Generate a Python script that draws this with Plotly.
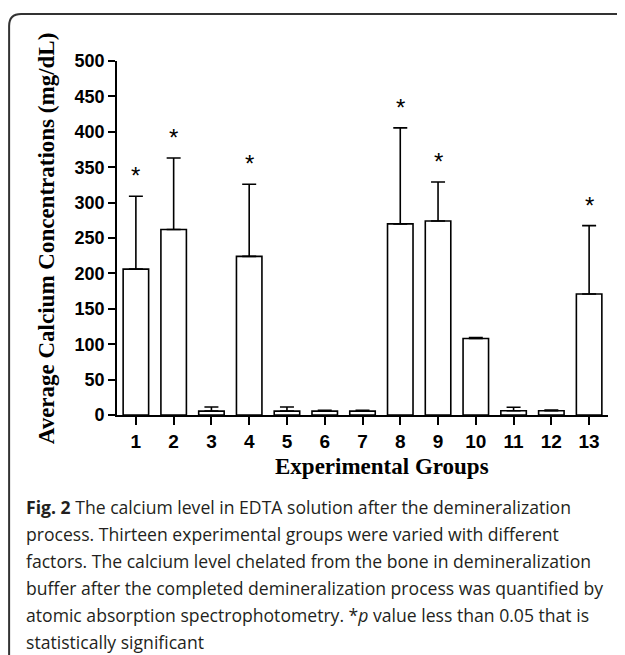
import plotly.graph_objects as go

groups = ["1", "2", "3", "4", "5", "6", "7", "8", "9", "10", "11", "12", "13"]
means = [206, 262, 5.5, 224, 5.5, 5.5, 5.5, 270, 274, 108, 6, 6, 171]
err_upper = [103, 101, 5.7, 102, 5.7, 1, 1, 135.5, 55, 1.5, 5, 1, 96.5]
significant = ["1", "2", "4", "8", "9", "13"]
y_ticks = [0, 50, 100, 150, 200, 250, 300, 350, 400, 450, 500]

caption_lines = [
    "<b>Fig. 2</b> The calcium level in EDTA solution after the demineralization",
    "process. Thirteen experimental groups were varied with different",
    "factors. The calcium level chelated from the bone in demineralization",
    "buffer after the completed demineralization process was quantified by",
    "atomic absorption spectrophotometry. *<i>p</i> value less than 0.05 that is",
    "statistically significant",
]

# page body has an 8px margin: work in screen coords and subtract it
OFF = 8
W, H = 625, 655
ML = 117 - OFF
MT = 61 - OFF
MR = W - (608.5 - OFF)
MB = H - (414.6 - OFF)
PW = W - ML - MR
PH = H - MT - MB


def px(x):
    return (x - OFF - ML) / PW


def py(y):
    return (H - MB - (y - OFF)) / PH


fig = go.Figure()
fig.add_trace(go.Bar(
    x=groups,
    y=means,
    marker=dict(color="white", line=dict(color="black", width=1.6)),
    error_y=dict(type="data", symmetric=False, array=err_upper,
                 arrayminus=[0] * len(means), color="black",
                 thickness=1.6, width=7),
    width=0.675,
    showlegend=False,
))

annotations = []
for g in significant:
    i = groups.index(g)
    annotations.append(dict(
        x=i, y=means[i] + err_upper[i], xref="x", yref="y",
        text="*", showarrow=False, yanchor="bottom", yshift=5,
        font=dict(family="Liberation Sans, Arial", size=24, color="black"),
    ))

# y-axis title
annotations.append(dict(
    x=px(46), y=py(238), xref="paper", yref="paper",
    text="<b>Average Calcium Concentrations (mg/dL)</b>", textangle=-90,
    showarrow=False, xanchor="center", yanchor="middle",
    font=dict(family="Liberation Serif, Times New Roman", size=23, color="black"),
))
# x-axis title
annotations.append(dict(
    x=px(382), y=py(466), xref="paper", yref="paper",
    text="<b>Experimental Groups</b>",
    showarrow=False, xanchor="center", yanchor="middle",
    font=dict(family="Liberation Serif, Times New Roman", size=23, color="black"),
))

line_centers = [506, 533, 560, 587, 614, 641]
for txt, yc in zip(caption_lines, line_centers):
    annotations.append(dict(
        x=px(24), y=py(yc), xref="paper", yref="paper",
        text=txt, showarrow=False, xanchor="left", yanchor="middle",
        font=dict(family="Open Sans, Noto Sans", size=17.6, color="#231f20"),
    ))

# rounded frame (top-left corner)
r = 12
x0, y0 = 9, 14
path = (f"M {px(x0)},{py(680)} L {px(x0)},{py(y0 + r)} "
        f"Q {px(x0)},{py(y0)} {px(x0 + r)},{py(y0)} L {px(650)},{py(y0)}")

fig.update_layout(
    width=W, height=H,
    margin=dict(l=ML, r=MR, t=MT, b=MB),
    paper_bgcolor="white", plot_bgcolor="white",
    annotations=annotations,
    shapes=[dict(type="path", path=path, xref="paper", yref="paper",
                 line=dict(color="#333333", width=2))],
    xaxis=dict(
        type="category", range=[-0.5, 12.5],
        showline=True, linecolor="black", linewidth=1.6,
        ticks="outside", ticklen=8, tickwidth=1.6, tickcolor="black",
        showgrid=False, zeroline=False,
        tickfont=dict(family="Liberation Sans, Arial", size=19, color="black", weight="bold"),
    ),
    yaxis=dict(
        range=[0, 500], tickvals=y_ticks,
        showline=True, linecolor="black", linewidth=1.6,
        ticks="outside", ticklen=7, tickwidth=1.6, tickcolor="black",
        showgrid=False, zeroline=False,
        tickfont=dict(family="Liberation Sans, Arial", size=18, color="black", weight="bold"),
    ),
)

fig.write_html("out.html")
